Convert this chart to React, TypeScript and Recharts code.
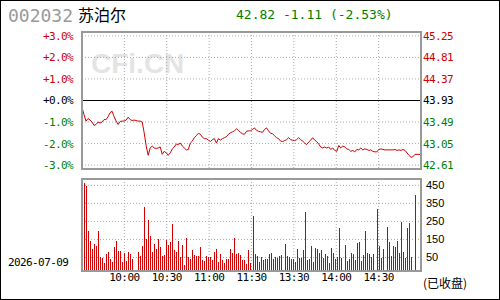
import React from 'react';
import { LineChart, Line, BarChart, Bar, XAxis, YAxis, CartesianGrid, ReferenceLine } from 'recharts';

const STOCK_CODE = '002032';
const STOCK_NAME = '苏泊尔';
const QUOTE = '42.82 -1.11 (-2.53%)';
const TRADE_DATE = '2026-07-09';
const STATUS = '(已收盘)';
const PREV_CLOSE = 43.93;

// intraday price, sampled roughly every 1.4 minutes from 9:30 to 15:00
const PRICE = [
  43.79, 43.64, 43.51, 43.56, 43.53, 43.49, 43.42, 43.44, 43.49, 43.47,
  43.49, 43.54, 43.54, 43.60, 43.68, 43.71, 43.60, 43.51, 43.44, 43.50,
  43.51, 43.51, 43.53, 43.59, 43.54, 43.52, 43.53, 43.52, 43.51, 43.51,
  43.49, 43.27, 43.00, 42.81, 42.96, 43.00, 42.96, 42.95, 42.96, 42.98,
  42.83, 42.89, 42.86, 42.81, 42.86, 42.94, 42.98, 43.04, 43.03, 43.06,
  43.00, 42.96, 42.92, 42.93, 43.06, 43.10, 43.17, 43.21, 43.26, 43.24,
  43.18, 43.15, 43.15, 43.12, 43.09, 43.13, 43.15, 43.06, 43.15, 43.12,
  43.15, 43.17, 43.19, 43.24, 43.27, 43.29, 43.31, 43.35, 43.32, 43.28,
  43.25, 43.24, 43.30, 43.31, 43.31, 43.34, 43.37, 43.32, 43.30, 43.29,
  43.28, 43.34, 43.37, 43.31, 43.26, 43.25, 43.21, 43.17, 43.15, 43.10,
  43.09, 43.11, 43.13, 43.17, 43.13, 43.12, 43.11, 43.13, 43.17, 43.13,
  43.10, 43.06, 43.03, 43.08, 43.12, 43.17, 43.12, 43.09, 43.04, 42.98,
  42.96, 42.98, 42.96, 42.98, 42.93, 42.96, 42.91, 42.89, 43.01, 42.96,
  43.00, 42.98, 42.94, 42.93, 42.89, 42.91, 42.88, 42.93, 42.92, 42.96,
  42.92, 42.94, 42.93, 42.91, 42.92, 42.89, 42.88, 42.88, 42.93, 42.94,
  42.93, 42.92, 42.92, 42.92, 42.92, 42.92, 42.93, 42.91, 42.92, 42.91,
  42.93, 42.91, 42.86, 42.81, 42.77, 42.78, 42.83, 42.83, 42.83, 42.82,
];

const VOLUME = [
  7, 463, 446, 196, 141, 96, 124, 113, 196, 52,
  46, 19, 69, 80, 41, 24, 107, 141, 85, 85,
  24, 74, 30, 80, 69, 41, 0, 0, 80, 57,
  113, 330, 152, 257, 168, 80, 124, 96, 152, 107,
  57, 63, 146, 118, 135, 235, 91, 80, 141, 52,
  118, 7, 157, 52, 41, 91, 63, 57, 57, 107,
  35, 30, 57, 52, 52, 35, 80, 96, 24, 69,
  35, 19, 41, 41, 96, 74, 157, 69, 74, 63,
  35, 35, 13, 91, 20, 280, 69, 57, 24, 52,
  35, 41, 41, 69, 74, 41, 52, 46, 57, 63,
  0, 124, 57, 52, 41, 41, 24, 96, 46, 46,
  91, 302, 35, 41, 113, 24, 102, 96, 74, 91,
  46, 69, 57, 19, 102, 74, 41, 52, 213, 46,
  0, 118, 30, 41, 74, 69, 35, 130, 135, 30,
  63, 196, 74, 69, 52, 69, 0, 318, 113, 46,
  96, 0, 218, 135, 57, 113, 107, 141, 74, 246,
  80, 46, 213, 241, 52, 0, 396, 0, 0, 74,
];

const PRICE_TICKS = [45.25, 44.81, 44.37, 43.93, 43.49, 43.05, 42.61];
const VOL_TICKS = [450, 350, 250, 150, 50];
// minutes since 9:30 (lunch break folded out)
const TIME_TICKS = [30, 60, 90, 120, 150, 180, 210];
const TIME_LABELS = ['10:00', '10:30', '11:00', '11:30', '13:30', '14:00', '14:30'];

const PRICE_DOMAIN = [42.53, 45.33];
const VOL_FLOOR = -25;
const RED = '#d00000';
const GREEN = '#008000';
const GRID = '#aaaaaa';
const MONO = '"DejaVu Sans Mono", monospace';
const SANS = '"Liberation Sans", Arial, sans-serif';
const CJK = '"Noto Sans CJK SC", sans-serif';

const priceData = PRICE.map((p, i) => ({ t: (i * 240) / (PRICE.length - 1), price: p }));
const volData = VOLUME.map((v, i) => ({ t: (i * 240) / (VOLUME.length - 1), vol: v }));

const sideColor = (d: number) => (d > 0.001 ? RED : d < -0.001 ? GREEN : '#000');

const PctTick = ({ x, y, payload }: any) => {
  const pct = ((payload.value - PREV_CLOSE) / PREV_CLOSE) * 100;
  return (
    <text x={x} y={y} dy="0.36em" textAnchor="end" fill={sideColor(payload.value - PREV_CLOSE)}
      fontSize={11} fontFamily={MONO} letterSpacing={-0.6}>
      {(pct >= -0.001 ? '+' : '-') + Math.abs(pct).toFixed(1) + '%'}
    </text>
  );
};

const PriceTick = ({ x, y, payload }: any) => (
  <text x={x} y={y} dy="0.36em" textAnchor="start" fill={sideColor(payload.value - PREV_CLOSE)}
    fontSize={11} fontFamily={MONO} letterSpacing={-0.6}>
    {payload.value.toFixed(2)}
  </text>
);

const VolTick = ({ x, y, payload }: any) => (
  <text x={x} y={y} dy="0.36em" textAnchor="start" fill="#000" fontSize={11} fontFamily={SANS}>
    {payload.value}
  </text>
);

const TimeTick = ({ x, y, payload }: any) => (
  <text x={x} y={y + 10} textAnchor="middle" fill="#000" fontSize={11} fontFamily={MONO} letterSpacing={-0.6}>
    {TIME_LABELS[TIME_TICKS.indexOf(payload.value)]}
  </text>
);

const CrispBar = (props: any) => {
  const { x, y, height } = props;
  if (!height || height <= 0) return null;
  return <rect x={Math.round(x)} y={Math.round(y)} width={1} height={Math.round(height)} fill={RED}
    shapeRendering="crispEdges" />;
};

const frame = (top: number, height: number): React.CSSProperties => ({
  position: 'absolute', left: 80, top, width: 341, height,
  border: '2px solid #999', boxSizing: 'border-box', pointerEvents: 'none',
});

export default function App() {
  return (
    <div style={{ position: 'absolute', left: 0, top: 0, width: 500, height: 300, background: '#fff',
      border: '1px solid #000', boxSizing: 'border-box', overflow: 'hidden' }}>
      <div style={{ position: 'absolute', left: 90, top: 47, fontFamily: SANS, fontWeight: 'bold',
        fontSize: 28, color: '#e4e4e4' }}>CFi.CN</div>

      <div style={{ position: 'absolute', left: 7, top: 4, fontFamily: MONO, fontSize: 18, color: '#999',
        lineHeight: '22px' }}>{STOCK_CODE}</div>
      <div style={{ position: 'absolute', left: 77, top: 2, fontFamily: CJK, fontSize: 16, color: '#000',
        lineHeight: '22px' }}>{STOCK_NAME}</div>
      <div style={{ position: 'absolute', left: 235, top: 5, fontFamily: MONO, fontSize: 13, color: GREEN,
        lineHeight: '18px' }}>{QUOTE}</div>

      <div style={{ position: 'absolute', left: 0, top: 0 }}>
        <LineChart width={500} height={175} data={priceData} margin={{ top: 31, right: 0, bottom: 7, left: 0 }}>
          <XAxis dataKey="t" type="number" domain={[0, 240]} ticks={TIME_TICKS} hide />
          <YAxis yAxisId="pct" orientation="left" width={81} type="number" domain={PRICE_DOMAIN}
            ticks={PRICE_TICKS} interval={0} axisLine={false} tickLine={false} tickSize={0} tickMargin={9}
            tick={<PctTick />} />
          <YAxis yAxisId="price" orientation="right" width={80} type="number" domain={PRICE_DOMAIN}
            ticks={PRICE_TICKS} interval={0} axisLine={false} tickLine={false} tickSize={0} tickMargin={2}
            tick={<PriceTick />} />
          <CartesianGrid yAxisId="price" stroke={GRID} strokeDasharray="1 2" />
          <ReferenceLine yAxisId="price" y={PREV_CLOSE} stroke="#000" strokeWidth={1} />
          <Line yAxisId="pct" dataKey="price" type="linear" stroke="none" dot={false}
            isAnimationActive={false} />
          <Line yAxisId="price" dataKey="price" type="linear" stroke={RED} strokeWidth={1}
            dot={false} isAnimationActive={false} />
        </LineChart>
      </div>

      <div style={{ position: 'absolute', left: 0, top: 0 }}>
        <BarChart width={500} height={300} data={volData} margin={{ top: 178, right: 0, bottom: 0, left: 81 }}>
          <XAxis dataKey="t" type="number" domain={[0, 240]} ticks={TIME_TICKS} interval={0} height={30}
            axisLine={false} tickLine={false} tickSize={0} tickMargin={0} tick={<TimeTick />} />
          <YAxis orientation="right" width={80} domain={[VOL_FLOOR, 485]} ticks={VOL_TICKS} interval={0}
            axisLine={false} tickLine={false} tickSize={0} tickMargin={5} tick={<VolTick />} />
          <CartesianGrid stroke={GRID} strokeDasharray="1 2" />
          <Bar dataKey={(d: any) => [VOL_FLOOR, d.vol > 0 ? d.vol : VOL_FLOOR]} barSize={1}
            shape={<CrispBar />} isAnimationActive={false} />
        </BarChart>
      </div>

      <div style={frame(30, 139)} />
      <div style={frame(177, 94)} />

      <div style={{ position: 'absolute', left: 7, top: 255, fontFamily: MONO, fontSize: 11, letterSpacing: -0.6,
        color: '#000', lineHeight: '14px' }}>{TRADE_DATE}</div>
      <div style={{ position: 'absolute', left: 422, top: 274, fontFamily: CJK, fontSize: 12, color: '#000',
        lineHeight: '16px' }}>{STATUS}</div>
    </div>
  );
}
